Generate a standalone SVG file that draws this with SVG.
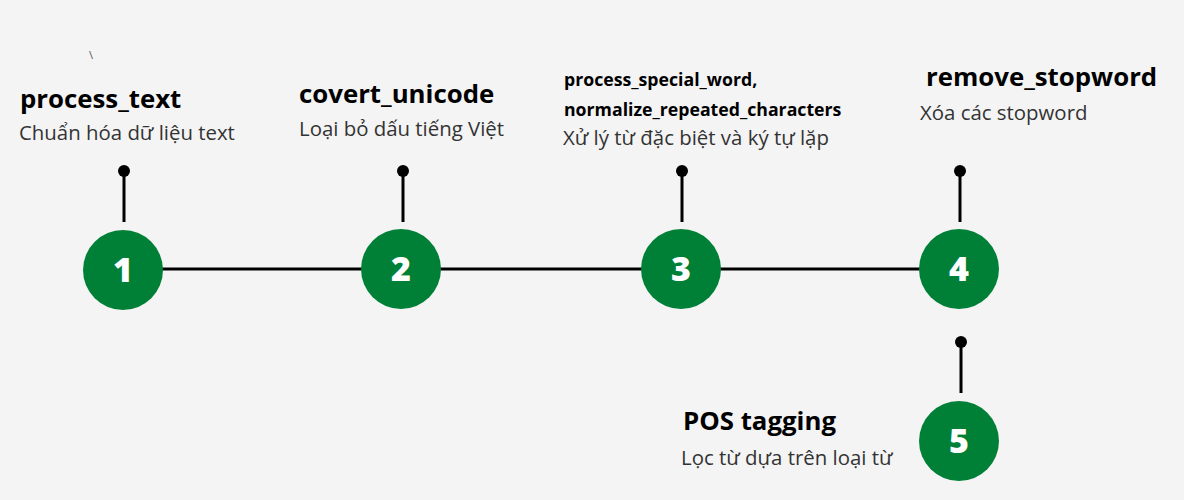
<svg xmlns="http://www.w3.org/2000/svg" width="1184" height="500" viewBox="0 0 1184 500">
<style>
.bg{fill:#f4f4f4}
.circ{fill:#008037}
.num{font-family:"Open Sans","Noto Sans",sans-serif;font-weight:800;font-size:34px;fill:#ffffff;text-anchor:middle}
.stem{stroke:#000;stroke-width:3;fill:none}
.dot{fill:#000}
.conn{stroke:#000;stroke-width:3;fill:none}
.title{font-family:"Open Sans","Noto Sans",sans-serif;font-weight:700;font-size:25.8px;fill:#000}
.title-s{font-family:"Open Sans","Noto Sans",sans-serif;font-weight:700;font-size:17.7px;fill:#000}
.desc{font-family:"Open Sans","Noto Sans",sans-serif;font-size:20.4px;fill:#333}
.stray{font-family:"Open Sans","Noto Sans",sans-serif;font-size:11px;fill:#555}
</style>
<rect class="bg" x="0" y="0" width="1184" height="500"/>
<text class="stray" x="89" y="59">\</text>
<g id="connectors">
<line class="conn" x1="123" y1="269" x2="959" y2="269"/>
<line class="stem" x1="124" y1="171" x2="124" y2="222"/>
<circle class="dot" cx="124" cy="171" r="6"/>
<line class="stem" x1="403" y1="171" x2="403" y2="222"/>
<circle class="dot" cx="403" cy="171" r="6"/>
<line class="stem" x1="682" y1="171" x2="682" y2="222"/>
<circle class="dot" cx="682" cy="171" r="6"/>
<line class="stem" x1="960" y1="171" x2="960" y2="222"/>
<circle class="dot" cx="960" cy="171" r="6"/>
<line class="stem" x1="961" y1="342" x2="961" y2="393"/>
<circle class="dot" cx="961" cy="342" r="6"/>
</g>
<g id="node1">
<circle class="circ" cx="123" cy="270" r="40"/>
<text class="num" x="123" y="282">1</text>
<text class="title" x="20" y="108">process_text</text>
<text class="desc" x="19" y="140">Chuẩn hóa dữ liệu text</text>
</g>
<g id="node2">
<circle class="circ" cx="401" cy="269" r="40"/>
<text class="num" x="401" y="281">2</text>
<text class="title" x="299" y="103">covert_unicode</text>
<text class="desc" x="299" y="136">Loại bỏ dấu tiếng Việt</text>
</g>
<g id="node3">
<circle class="circ" cx="681" cy="269" r="40"/>
<text class="num" x="681" y="281">3</text>
<text class="title-s" x="564" y="86">process_special_word,</text>
<text class="title-s" x="564" y="116">normalize_repeated_characters</text>
<text class="desc" x="563" y="145">Xử lý từ đặc biệt và ký tự lặp</text>
</g>
<g id="node4">
<circle class="circ" cx="959" cy="269" r="40"/>
<text class="num" x="959" y="281">4</text>
<text class="title" x="926" y="86">remove_stopword</text>
<text class="desc" x="920" y="120">Xóa các stopword</text>
</g>
<g id="node5">
<circle class="circ" cx="959" cy="441" r="40"/>
<text class="num" x="959" y="453">5</text>
<text class="title" x="683" y="430">POS tagging</text>
<text class="desc" x="681" y="465">Lọc từ dựa trên loại từ</text>
</g>
</svg>
